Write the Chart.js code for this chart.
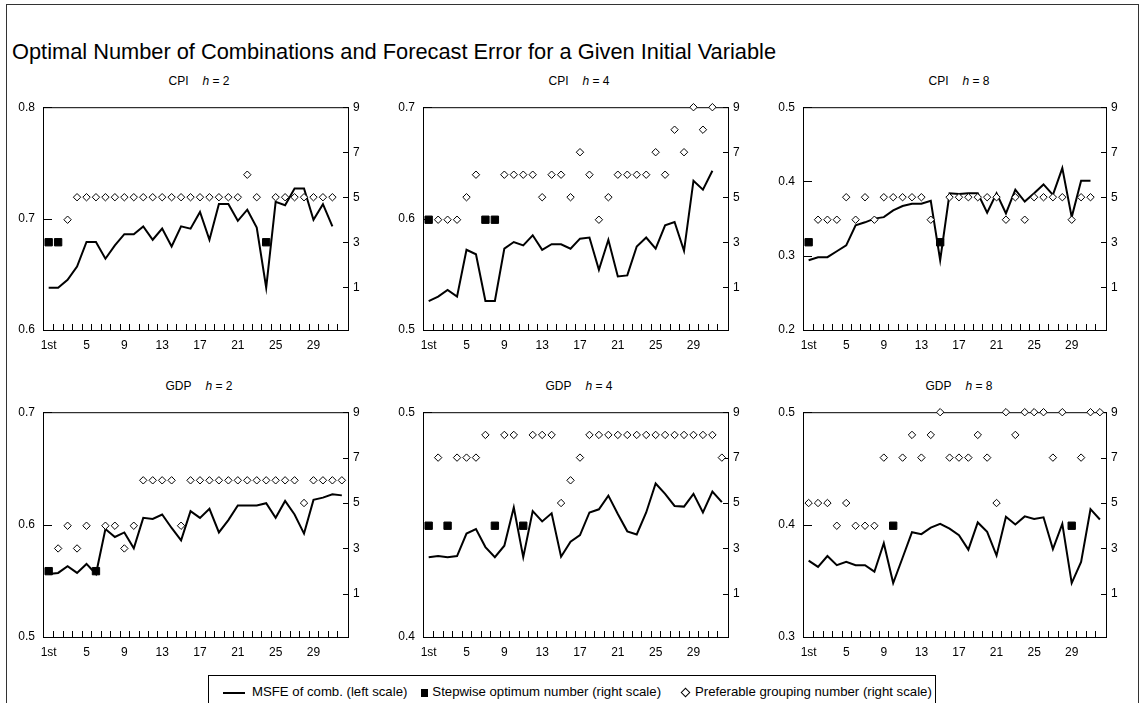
<!DOCTYPE html>
<html>
<head>
<meta charset="utf-8">
<script src="https://cdn.jsdelivr.net/npm/chart.js@4.4.1/dist/chart.umd.min.js"></script>
<style>
    body { margin: 0; background: #fff; font-family: "Liberation Sans", Arial, sans-serif; color: #000; }
    #page { position: relative; width: 1141px; height: 703px; overflow: hidden; }
    #frame { position: absolute; left: 6px; top: 4px; width: 1133px; height: 730px; border: 1px solid #333; box-sizing: border-box; }
    #title { position: absolute; left: 12px; top: 39px; font-size: 21.8px; white-space: nowrap; }
    .ptitle { position: absolute; font-size: 12px; transform: translate(-50%, -50%); white-space: nowrap; }
    .ptitle i { margin-left: 14px; }
    canvas { position: absolute; }
    #legend { position: absolute; left: 208px; top: 675px; width: 728px; height: 40px; border: 1px solid #000; box-sizing: border-box; font-size: 13.2px; }
    #legend .row { position: absolute; left: 14px; top: 8px; white-space: nowrap; line-height: 15px; }
    .sw { display: inline-block; vertical-align: middle; }
    .sw-line { width: 22px; height: 2px; background: #000; margin-right: 7px; }
    .sw-sq { width: 7px; height: 8px; background: #000; margin-left: 14px; margin-right: 4px; }
    .sw-dia { width: 5px; height: 5px; border: 1px solid #000; transform: rotate(45deg); margin-left: 21px; margin-right: 6px; }
</style>
</head>
<body>
<div id="page">
    <div id="frame"></div>
    <div id="title">Optimal Number of Combinations and Forecast Error for a Given Initial Variable</div>

    <div class="ptitle" style="left:199px; top:81px;">CPI<i>h</i> = 2</div>
    <div class="ptitle" style="left:579px; top:81px;">CPI<i>h</i> = 4</div>
    <div class="ptitle" style="left:959px; top:81px;">CPI<i>h</i> = 8</div>
    <div class="ptitle" style="left:199px; top:386px;">GDP<i>h</i> = 2</div>
    <div class="ptitle" style="left:579px; top:386px;">GDP<i>h</i> = 4</div>
    <div class="ptitle" style="left:959px; top:386px;">GDP<i>h</i> = 8</div>

    <canvas id="cpi2Chart" width="380" height="268" style="left:0px; top:92px;"></canvas>
    <canvas id="cpi4Chart" width="380" height="268" style="left:380px; top:92px;"></canvas>
    <canvas id="cpi8Chart" width="381" height="268" style="left:760px; top:92px;"></canvas>
    <canvas id="gdp2Chart" width="380" height="270" style="left:0px; top:397px;"></canvas>
    <canvas id="gdp4Chart" width="380" height="270" style="left:380px; top:397px;"></canvas>
    <canvas id="gdp8Chart" width="381" height="270" style="left:760px; top:397px;"></canvas>

    <div id="legend">
        <div class="row">
            <span class="sw sw-line"></span>MSFE of comb. (left scale)<span class="sw sw-sq"></span>Stepwise optimum number (right scale)<span class="sw sw-dia"></span>Preferable grouping number (right scale)
        </div>
    </div>
</div>

<script>
// x axis: combination rank, labels only every 4th
const xTickValues = [1, 5, 9, 13, 17, 21, 25, 29];
const xTickLabels = ['1st', '5', '9', '13', '17', '21', '25', '29'];
const rightTicks = [1, 3, 5, 7, 9];

// CPI h = 2
const cpi2Msfe = [0.638, 0.638, 0.645, 0.657, 0.679, 0.679, 0.664, 0.676, 0.686, 0.686,
    0.693, 0.681, 0.691, 0.675, 0.693, 0.691, 0.706, 0.681, 0.713, 0.713,
    0.698, 0.708, 0.692, 0.638, 0.715, 0.712, 0.727, 0.727, 0.699, 0.713, 0.693];
const cpi2Step = [3, 3, null, null, null, null, null, null, null, null,
    null, null, null, null, null, null, null, null, null, null,
    null, null, null, 3, null, null, null, null, null, null, null];
const cpi2Pref = [null, null, 4, 5, 5, 5, 5, 5, 5, 5,
    5, 5, 5, 5, 5, 5, 5, 5, 5, 5,
    5, 6, 5, null, 5, 5, 5, 5, 5, 5, 5];

// CPI h = 4
const cpi4Msfe = [0.526, 0.530, 0.536, 0.530, 0.572, 0.568, 0.526, 0.526, 0.573, 0.579,
    0.576, 0.585, 0.572, 0.577, 0.577, 0.573, 0.582, 0.583, 0.554, 0.581,
    0.548, 0.549, 0.575, 0.583, 0.573, 0.594, 0.597, 0.571, 0.634, 0.626, 0.643];
const cpi4Step = [4, null, null, null, null, null, 4, 4, null, null,
    null, null, null, null, null, null, null, null, null, null,
    null, null, null, null, null, null, null, null, null, null, null];
const cpi4Pref = [null, 4, 4, 4, 5, 6, null, null, 6, 6,
    6, 6, 5, 6, 6, 5, 7, 6, 4, 5,
    6, 6, 6, 6, 7, 6, 8, 7, 9, 8, 9];

// CPI h = 8
const cpi8Msfe = [0.294, 0.298, 0.298, 0.306, 0.314, 0.341, 0.345, 0.350, 0.352, 0.361,
    0.367, 0.370, 0.370, 0.374, 0.294, 0.384, 0.383, 0.384, 0.384, 0.358,
    0.384, 0.357, 0.389, 0.373, 0.384, 0.396, 0.382, 0.418, 0.352, 0.401, 0.401];
const cpi8Step = [3, null, null, null, null, null, null, null, null, null,
    null, null, null, null, 3, null, null, null, null, null,
    null, null, null, null, null, null, null, null, null, null, null];
const cpi8Pref = [null, 4, 4, 4, 5, 4, 5, 4, 5, 5,
    5, 5, 5, 4, null, 5, 5, 5, 5, 5,
    5, 4, 5, 4, 5, 5, 5, 5, 4, 5, 5];

// GDP h = 2
const gdp2Msfe = [0.556, 0.557, 0.563, 0.557, 0.565, 0.556, 0.596, 0.589, 0.593, 0.579,
    0.606, 0.605, 0.609, 0.597, 0.586, 0.612, 0.606, 0.614, 0.593, 0.604,
    0.617, 0.617, 0.617, 0.619, 0.606, 0.621, 0.609, 0.592, 0.622, 0.624, 0.627, 0.626];
const gdp2Step = [2, null, null, null, null, 2, null, null, null, null,
    null, null, null, null, null, null, null, null, null, null,
    null, null, null, null, null, null, null, null, null, null, null, null];
const gdp2Pref = [null, 3, 4, 3, 4, null, 4, 4, 3, 4,
    6, 6, 6, 6, 4, 6, 6, 6, 6, 6,
    6, 6, 6, 6, 6, 6, 6, 5, 6, 6, 6, 6];

// GDP h = 4
const gdp4Msfe = [0.4355, 0.436, 0.4355, 0.436, 0.446, 0.448, 0.440, 0.4355, 0.4406, 0.4576,
    0.4355, 0.456, 0.4514, 0.455, 0.4357, 0.4424, 0.4453, 0.4554, 0.4568, 0.4629,
    0.4547, 0.447, 0.4456, 0.4554, 0.4683, 0.4637, 0.4583, 0.458, 0.4637, 0.4554, 0.4647, 0.460];
const gdp4Step = [4, null, 4, null, null, null, null, 4, null, null,
    4, null, null, null, null, null, null, null, null, null,
    null, null, null, null, null, null, null, null, null, null, null, null];
const gdp4Pref = [null, 7, null, 7, 7, 7, 8, null, 8, 8,
    null, 8, 8, 8, 5, 6, 7, 8, 8, 8,
    8, 8, 8, 8, 8, 8, 8, 8, 8, 8, 8, 7];

// GDP h = 8
const gdp8Msfe = [0.368, 0.3624, 0.372, 0.3639, 0.3668, 0.3639, 0.3639, 0.3581, 0.3835, 0.348,
    0.3705, 0.3932, 0.3915, 0.3973, 0.4007, 0.3964, 0.3906, 0.3777, 0.4019, 0.3935,
    0.3725, 0.407, 0.4001, 0.4073, 0.405, 0.4065, 0.3783, 0.4007, 0.348, 0.3668, 0.4137, 0.4045];
const gdp8Step = [null, null, null, null, null, null, null, null, null, 4,
    null, null, null, null, null, null, null, null, null, null,
    null, null, null, null, null, null, null, null, 4, null, null, null];
const gdp8Pref = [5, 5, 5, 4, 5, 4, 4, 4, 7, null,
    7, 8, 7, 8, 9, 7, 7, 7, 8, 7,
    5, 9, 8, 9, 9, 9, 7, 9, null, 7, 9, 9];

Chart.defaults.font.family = '"Liberation Sans", Arial, sans-serif';
Chart.defaults.font.size = 12;
Chart.defaults.color = '#000';

// box on top + short inward tick marks on all three axes
const innerTicks = {
    id: 'innerTicks',
    beforeDatasetsDraw(chart) {
        const { ctx, chartArea: a, scales: { x, y, y2 } } = chart;
        ctx.save();
        ctx.strokeStyle = '#000';
        ctx.lineWidth = 1;
        ctx.beginPath();
        ctx.moveTo(a.left, a.top + 0.5);
        ctx.lineTo(a.right, a.top + 0.5);
        for (let v = 1.5; v < 32; v++) {
            const px = Math.round(x.getPixelForValue(v)) + 0.5;
            ctx.moveTo(px, a.bottom);
            ctx.lineTo(px, a.bottom - 6);
        }
        y.ticks.forEach(t => {
            const py = Math.round(y.getPixelForValue(t.value)) + 0.5;
            ctx.moveTo(a.left, py);
            ctx.lineTo(a.left + 9, py);
        });
        y2.ticks.forEach(t => {
            const py = Math.round(y2.getPixelForValue(t.value)) + 0.5;
            ctx.moveTo(a.right, py);
            ctx.lineTo(a.right - 5, py);
        });
        ctx.stroke();
        ctx.restore();
    }
};

function toPoints(arr) {
    const pts = [];
    arr.forEach((v, i) => { if (v !== null) pts.push({ x: i + 1, y: v }); });
    return pts;
}

function makePanel(id, msfe, step, pref, yMin, yMax, rightW) {
    const ctx = document.getElementById(id).getContext('2d');
    return new Chart(ctx, {
        type: 'line',
        data: {
            datasets: [{
                label: 'Preferable grouping number (right scale)',
                data: toPoints(pref),
                yAxisID: 'y2',
                showLine: false,
                pointStyle: 'rectRot',
                pointRadius: 3.7,
                pointBackgroundColor: '#fff',
                pointBorderColor: '#000',
                pointBorderWidth: 1,
                clip: false,
                order: 0
            }, {
                label: 'Stepwise optimum number (right scale)',
                data: toPoints(step),
                yAxisID: 'y2',
                showLine: false,
                pointStyle: 'rect',
                pointRadius: 5.2,
                pointBackgroundColor: '#000',
                pointBorderColor: '#000',
                pointBorderWidth: 1,
                clip: false,
                order: 1
            }, {
                label: 'MSFE of comb. (left scale)',
                data: toPoints(msfe),
                yAxisID: 'y',
                borderColor: '#000',
                borderWidth: 2,
                pointRadius: 0,
                tension: 0,
                clip: false,
                order: 2
            }]
        },
        options: {
            responsive: false,
            animation: false,
            events: [],
            layout: { padding: { top: 8, left: 0, right: 0, bottom: 0 } },
            plugins: { legend: { display: false }, tooltip: { enabled: false } },
            scales: {
                x: {
                    type: 'linear',
                    min: 0.4,
                    max: 32.65,
                    grid: { display: false, drawTicks: false },
                    border: { display: true, color: '#000', width: 1 },
                    ticks: { padding: 8, maxRotation: 0, autoSkip: false, callback: (v, i) => xTickLabels[i] },
                    afterBuildTicks: s => { s.ticks = xTickValues.map(v => ({ value: v })); },
                    afterFit: s => { s.height = 30; }
                },
                y: {
                    position: 'left',
                    min: yMin,
                    max: yMax,
                    grid: { display: false, drawTicks: false },
                    border: { display: true, color: '#000', width: 1 },
                    ticks: { stepSize: 0.1, padding: 8, callback: v => v.toFixed(1) },
                    afterFit: s => { s.width = 43; }
                },
                y2: {
                    position: 'right',
                    min: -0.9,
                    max: 9,
                    grid: { display: false, drawTicks: false },
                    border: { display: true, color: '#000', width: 1 },
                    ticks: { padding: 5, callback: v => String(v) },
                    afterBuildTicks: s => { s.ticks = rightTicks.map(v => ({ value: v })); },
                    afterFit: s => { s.width = rightW; }
                }
            }
        },
        plugins: [innerTicks]
    });
}

makePanel('cpi2Chart', cpi2Msfe, cpi2Step, cpi2Pref, 0.6, 0.8, 32);
makePanel('cpi4Chart', cpi4Msfe, cpi4Step, cpi4Pref, 0.5, 0.7, 32);
makePanel('cpi8Chart', cpi8Msfe, cpi8Step, cpi8Pref, 0.2, 0.5, 35);
makePanel('gdp2Chart', gdp2Msfe, gdp2Step, gdp2Pref, 0.5, 0.7, 32);
makePanel('gdp4Chart', gdp4Msfe, gdp4Step, gdp4Pref, 0.4, 0.5, 32);
makePanel('gdp8Chart', gdp8Msfe, gdp8Step, gdp8Pref, 0.3, 0.5, 35);
</script>
</body>
</html>
